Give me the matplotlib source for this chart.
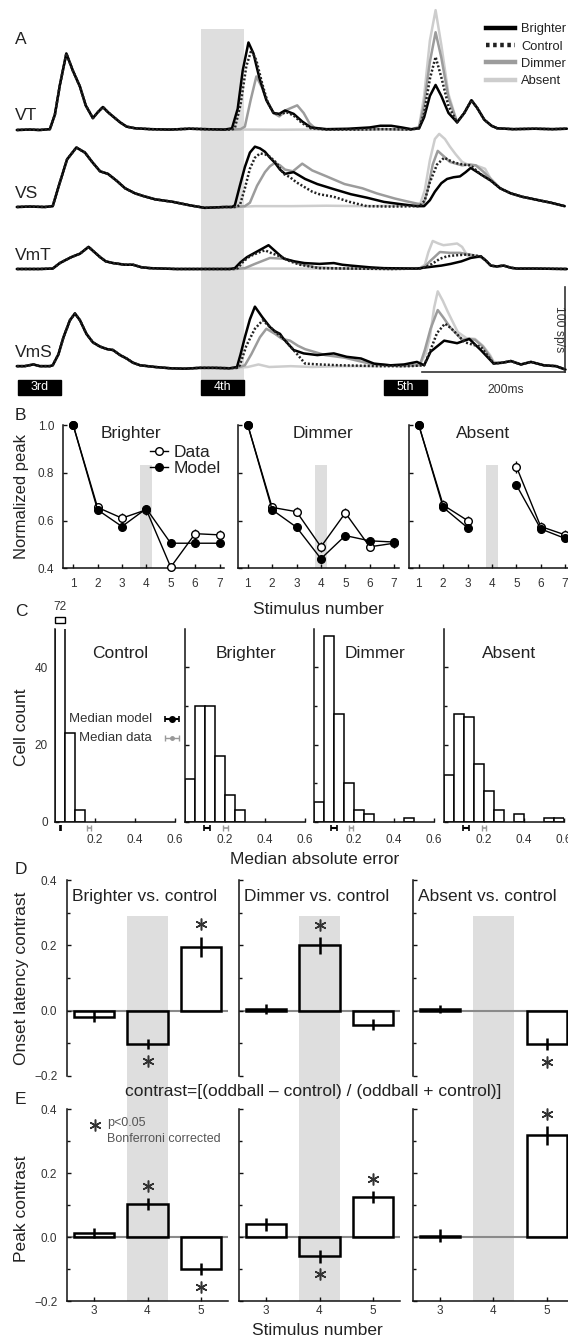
import numpy as np
import matplotlib
matplotlib.use("Agg")
import matplotlib.pyplot as plt
from matplotlib.patches import Rectangle
from matplotlib.lines import Line2D

plt.rcParams['font.family'] = ['Liberation Sans', 'DejaVu Sans']

W, H = 568, 1339
fig = plt.figure(figsize=(W / 100, H / 100), dpi=100)


def px_axes(x0, y0, x1, y1):
    # axes placed in pixel coords (top-left origin)
    return fig.add_axes([x0 / W, 1 - y1 / H, (x1 - x0) / W, (y1 - y0) / H])


def ftext(x, y, s, **kw):
    fig.text(x / W, 1 - y / H, s, **kw)


# ---------------- data: panel A (time in ms, rate in sp/s) ----------------
conds = ['Brighter', 'Control', 'Dimmer', 'Absent']
stim_onsets = [0, 255, 510]
stim_dur = 60
stim_labels = ['3rd', '4th', '5th']

vt_pre = [(-2, 0), (16, 0.5), (30, 0), (44, 1), (51, 18), (58, 53), (67, 90), (76, 70), (86, 51),
          (94, 29), (104, 14), (111, 21), (118, 27), (125, 21), (132, 16), (142, 9), (151, 4),
          (163, 2), (184, 1), (211, 0.5), (239, 1.5), (260, 1), (288, 0.5)]
vt_brighter = [(298, 2), (306, 25), (313, 70), (321, 103), (328, 90), (336, 62), (346, 35), (356, 20),
               (364, 19), (372, 23), (384, 19), (396, 10), (408, 3), (430, 1), (460, 1.5), (490, 3),
               (505, 5), (520, 5), (535, 3), (548, 1), (559, 2), (566, 15), (574, 40), (582, 53),
               (590, 40), (600, 20), (612, 9), (622, 20), (632, 35)]
vt_control = [(298, 0.5), (302, 2), (310, 30), (318, 75), (325, 94), (332, 82), (340, 55), (348, 32),
              (356, 20), (364, 18), (374, 21), (384, 17), (396, 8), (408, 2), (430, 0.5), (470, 0.5),
              (510, 1), (548, 0.5), (559, 2), (566, 20), (574, 60), (582, 86), (590, 62), (600, 28),
              (612, 9), (622, 20), (632, 35)]
vt_dimmer = [(298, 0.5), (310, 1), (316, 4), (324, 35), (332, 63), (340, 50), (346, 36), (356, 20),
             (364, 16), (375, 24), (389, 29), (398, 20), (406, 8), (414, 2), (430, 0.5), (470, 0.5),
             (510, 1), (548, 0.5), (559, 3), (566, 30), (574, 80), (582, 115), (590, 85), (600, 38),
             (612, 9), (622, 20), (632, 35)]
vt_absent = [(298, 0.5), (330, 0.5), (360, 0.3), (400, 0.5), (440, 0.5), (470, 0.5), (510, 1),
             (548, 0.5), (559, 4), (566, 40), (574, 105), (582, 141), (590, 100), (600, 42),
             (612, 9), (622, 20), (632, 35)]
vt_tail = [(640, 26), (650, 12), (660, 5), (668, 2), (690, 1), (720, 1.5), (745, 1), (765, 1.5)]

vs_pre = [(-2, 0), (16, 0.5), (37, 0), (48, 1), (58, 29), (68, 56), (81, 70), (93, 64), (103, 53),
          (114, 42), (125, 39), (137, 31), (149, 22), (163, 16), (174, 13), (191, 9), (216, 6),
          (239, 2), (260, -1), (288, 0), (298, 0)]
vs_brighter = [(302, 2), (309, 25), (316, 47), (323, 64), (330, 71), (337, 69), (344, 65), (351, 58),
               (358, 52), (365, 44), (372, 39), (384, 41), (400, 33), (417, 27), (440, 21), (464, 15),
               (486, 11), (510, 6), (532, 3.5), (556, 1), (566, 1), (574, 8), (581, 18), (590, 28),
               (598, 33), (607, 35), (616, 36), (624, 41), (631, 46), (644, 39), (659, 31)]
vs_control = [(302, 0), (309, 2), (316, 22), (323, 45), (330, 58), (337, 63), (344, 62), (351, 59),
              (360, 52), (370, 39), (379, 35), (388, 29), (398, 24), (410, 18), (420, 15), (440, 12),
              (462, 6), (486, 1), (520, 0.5), (560, 1), (567, 8), (574, 29), (584, 50), (594, 58),
              (601, 55), (609, 52), (620, 50), (631, 49), (644, 39), (659, 31)]
vs_dimmer = [(302, 0), (316, 1), (323, 5), (333, 25), (344, 41), (351, 48), (358, 52), (365, 49),
             (372, 44), (383, 42), (396, 51), (410, 43), (430, 36), (455, 27), (480, 22), (500, 16),
             (525, 10), (540, 7), (556, 4), (565, 3), (571, 20), (578, 50), (585, 66), (593, 60),
             (602, 53), (619, 49), (630, 50), (638, 49), (648, 42), (659, 33)]
vs_absent = [(302, 0), (330, 1), (380, 1), (430, 1.5), (480, 1), (530, 1.5), (560, 2), (567, 20),
             (574, 55), (581, 80), (587, 86), (595, 80), (602, 71), (610, 62), (619, 53), (629, 49),
             (638, 49), (651, 45), (659, 33)]
vs_tail = [(672, 22), (687, 16), (703, 12), (720, 9), (743, 5), (762, 1)]

vmt_pre = [(-2, 0), (30, 0), (48, 0.5), (58, 7), (67, 11), (74, 14), (86, 18), (98, 26), (106, 20),
           (114, 14), (122, 9), (132, 7), (149, 5), (160, 5), (172, 2), (184, 1), (220, 0), (260, 0),
           (295, 0)]
vmt_brighter = [(302, 1), (310, 8), (319, 14), (334, 21), (349, 28), (357, 22), (365, 16), (371, 12),
                (385, 9), (399, 7), (420, 6), (440, 7), (452, 5), (464, 4), (490, 2), (510, 1),
                (556, 0.5), (570, 2), (590, 4), (603, 6), (618, 9), (631, 13), (645, 15), (652, 10),
                (659, 4)]
vmt_control = [(302, 0), (306, 1), (314, 9), (323, 15), (334, 19), (344, 22), (355, 18), (365, 15),
               (379, 9), (393, 5), (420, 1), (470, 0.5), (520, 0), (560, 0.5), (567, 2), (577, 6),
               (588, 12), (598, 15), (609, 16), (626, 17), (636, 16), (645, 15), (652, 10), (659, 4)]
vmt_dimmer = [(302, 0), (316, 1), (330, 6), (351, 13), (372, 12), (393, 6), (414, 2), (450, 0.5),
              (520, 0), (560, 0.5), (567, 3), (574, 9), (588, 20), (602, 19), (616, 19), (630, 17),
              (645, 14), (652, 10), (659, 4)]
vmt_absent = [(302, 0.5), (360, 0.5), (420, 0.5), (500, 0.5), (560, 1), (567, 5), (572, 20),
              (578, 33), (586, 30), (593, 28), (603, 29), (612, 30), (619, 26), (626, 16), (634, 14),
              (645, 14), (652, 10), (659, 4)]
vmt_tail = [(667, 3), (677, 4), (687, 1.5), (695, 0.5), (720, 0.5), (765, 0)]

vms_pre = [(-2, 1), (9, 1), (21, 3), (30, 1), (44, 1), (48, 2), (56, 15), (63, 35), (72, 55), (79, 63),
           (86, 55), (95, 39), (104, 29), (114, 24), (124, 21), (132, 20), (142, 14), (151, 10),
           (160, 5), (170, 2), (191, 0), (212, -1.5), (232, -2), (253, -1), (274, -1), (295, -1.5)]
vms_brighter = [(305, 0), (310, 15), (316, 35), (323, 56), (330, 71), (340, 59), (351, 47), (358, 42),
                (365, 39), (370, 33), (384, 20), (398, 16), (417, 14), (440, 16), (458, 12), (478, 10),
                (496, 4), (519, 2), (538, 3), (556, 6), (566, 2), (575, 18), (594, 31), (612, 28),
                (629, 33), (645, 20), (663, 4)]
vms_control = [(305, -1), (309, 2), (318, 25), (330, 45), (341, 55), (351, 47), (370, 33), (386, 18),
               (400, 4), (420, 3), (449, 2), (504, 1), (546, 1), (566, 2), (574, 18), (584, 40),
               (595, 51), (603, 46), (609, 41), (623, 29), (635, 26), (645, 24), (663, 4)]
vms_dimmer = [(305, -1), (316, 2), (325, 15), (337, 35), (346, 45), (358, 39), (368, 33), (379, 31),
              (390, 25), (400, 21), (428, 14), (455, 11), (490, 4), (532, 1), (560, 2), (567, 20),
              (575, 45), (585, 67), (593, 58), (602, 47), (619, 32), (628, 33), (637, 32), (648, 24),
              (658, 12), (663, 5)]
vms_absent = [(305, -1), (320, 0), (335, 3), (350, 0), (380, 1), (410, 0), (450, 1), (500, 1),
              (540, 2), (560, 3), (568, 15), (574, 35), (580, 70), (585, 89), (592, 78), (599, 65),
              (613, 41), (625, 34), (637, 33), (648, 25), (658, 14), (663, 6)]
vms_tail = [(675, 5), (687, 7), (701, 3), (715, 6), (733, 2), (750, 1), (763, -3)]

cells = [('VT', vt_pre, [vt_brighter, vt_control, vt_dimmer, vt_absent], vt_tail),
         ('VS', vs_pre, [vs_brighter, vs_control, vs_dimmer, vs_absent], vs_tail),
         ('VmT', vmt_pre, [vmt_brighter, vmt_control, vmt_dimmer, vmt_absent], vmt_tail),
         ('VmS', vms_pre, [vms_brighter, vms_control, vms_dimmer, vms_absent], vms_tail)]

# ---------------- data: panel B ----------------
stim_num = [1, 2, 3, 4, 5, 6, 7]
b_titles = ['Brighter', 'Dimmer', 'Absent']
b_data = [[1.0, 0.655, 0.61, 0.645, 0.405, 0.545, 0.54],
          [1.0, 0.655, 0.637, 0.49, 0.632, 0.49, 0.505],
          [1.0, 0.665, 0.60, np.nan, 0.826, 0.575, 0.54]]
b_data_err = [[0, 0.02, 0.02, 0.02, 0.015, 0.02, 0.02],
              [0, 0.02, 0.02, 0.02, 0.02, 0.015, 0.02],
              [0, 0.02, 0.02, np.nan, 0.025, 0.02, 0.02]]
b_model = [[1.0, 0.645, 0.575, 0.65, 0.505, 0.505, 0.505],
           [1.0, 0.645, 0.572, 0.44, 0.537, 0.515, 0.51],
           [1.0, 0.655, 0.57, np.nan, 0.749, 0.565, 0.525]]
b_model_err = [[0, 0.015, 0.015, 0.015, 0.015, 0.015, 0.015],
               [0, 0.015, 0.015, 0.015, 0.015, 0.015, 0.015],
               [0, 0.015, 0.015, np.nan, 0.015, 0.015, 0.015]]

# ---------------- data: panel C ----------------
c_titles = ['Control', 'Brighter', 'Dimmer', 'Absent']
c_edges = [0.0, 0.05, 0.1, 0.15, 0.2, 0.25, 0.3, 0.35, 0.4, 0.45, 0.5, 0.55]
c_counts = [[72, 23, 3, 0, 0, 0, 0, 0, 0, 0, 0, 0],
            [11, 30, 30, 17, 7, 3, 0, 0, 0, 0, 0, 0],
            [5, 48, 28, 10, 3, 2, 0, 0, 0, 1, 0, 0],
            [12, 28, 27, 15, 8, 3, 0, 2, 0, 0, 1, 1]]
med_model = [0.028, 0.111, 0.1, 0.11]
med_model_err = [0.003, 0.015, 0.013, 0.017]
med_data = [0.17, 0.202, 0.187, 0.2]
med_data_err = [0.012, 0.012, 0.01, 0.012]

# ---------------- data: panels D, E ----------------
de_stim = [3, 4, 5]
de_titles = ['Brighter vs. control', 'Dimmer vs. control', 'Absent vs. control']
lat_vals = [[-0.018, -0.102, 0.195], [0.005, 0.2, -0.043], [0.004, np.nan, -0.102]]
lat_err = [[0.017, 0.015, 0.032], [0.015, 0.025, 0.016], [0.012, np.nan, 0.018]]
lat_sig = [[False, True, True], [False, True, False], [False, False, True]]
peak_vals = [[0.012, 0.103, -0.1], [0.04, -0.06, 0.125], [0.004, np.nan, 0.318]]
peak_err = [[0.015, 0.02, 0.02], [0.02, 0.02, 0.02], [0.02, np.nan, 0.03]]
peak_sig = [[False, True, True], [False, True, True], [False, False, True]]

# ---------------- style ----------------
TXT = '#222222'
TICK = '#333333'
SHADE = '#dedede'
BIG = 12.5
SMALL = 8.5
styles = {'Brighter': dict(color='black', lw=1.8),
          'Control': dict(color='#222222', lw=1.8, ls=(0, (0.8, 0.8))),
          'Dimmer': dict(color='#9c9c9c', lw=1.8),
          'Absent': dict(color='#cdcdcd', lw=1.8)}
draw_order = ['Absent', 'Dimmer', 'Brighter', 'Control']


def style_axes(ax, left=True, bottom=True):
    for s in ['top', 'right']:
        ax.spines[s].set_visible(False)
    ax.spines['left'].set_visible(left)
    ax.spines['bottom'].set_visible(bottom)
    for s in ['left', 'bottom']:
        ax.spines[s].set_linewidth(1.1)
        ax.spines[s].set_color('#111111')
    ax.tick_params(direction='in', length=3, width=1, colors='#111111', labelcolor=TICK,
                   labelsize=SMALL)
    ax.tick_params(which='minor', direction='in', length=2.5, width=1, colors='#111111')
    ax.patch.set_alpha(0)


# ================= Panel A =================
px_per_ms = 0.717
px_per_sp = 0.85
axA = px_axes(0, 0, 568, 400)
axA.set_xlim(-18.3 / px_per_ms, (568 - 18.3) / px_per_ms)
axA.set_ylim(0, 400 / px_per_sp)
axA.axis('off')
axA.axvspan(stim_onsets[1], stim_onsets[1] + stim_dur, ymin=5 / 400, ymax=371 / 400,
            color=SHADE, lw=0, zorder=0)

baselines = {'VT': 130, 'VS': 207, 'VmT': 269, 'VmS': 367}
for name, pre, posts, tail in cells:
    off = (400 - baselines[name]) / px_per_sp
    for cond in draw_order:
        pts = np.array(pre + posts[conds.index(cond)] + tail)
        axA.plot(pts[:, 0], pts[:, 1] + off, solid_capstyle='round', zorder=3, **styles[cond])
    ftext(15, baselines[name] - 14, name, fontsize=BIG, color=TXT, va='center', ha='left')

y0, y1 = (400 - 395) / px_per_sp, (400 - 380) / px_per_sp
for on, lab in zip(stim_onsets, stim_labels):
    axA.add_patch(Rectangle((on, y0), stim_dur, y1 - y0, color='black', zorder=4))
    axA.text(on + stim_dur / 2, (y0 + y1) / 2, lab, color='white', fontsize=9, ha='center',
             va='center', zorder=5)

# scale bars
sb_y = (400 - 371.7) / px_per_sp
axA.plot([563, 763], [sb_y, sb_y], color='#333333', lw=1.2)
axA.plot([763, 763], [sb_y, sb_y + 100], color='#333333', lw=1.2)
axA.text(680, (400 - 390) / px_per_sp, '200ms', fontsize=8.7, color=TICK, ha='center', va='center')
axA.text(754, sb_y + 50, '100 sp/s', fontsize=8.7, color=TICK, ha='center', va='center',
         rotation=-90)

handles = [Line2D([], [], color=styles[c]['color'], lw=3.2, ls=styles[c].get('ls', '-'))
           for c in conds]
axA.legend(handles, conds, loc='upper left', bbox_to_anchor=(485.7 / 568, 1 - 23 / 400),
           frameon=False, fontsize=9.3, handlelength=2.3, handletextpad=0.45, labelspacing=0.42,
           borderpad=0, borderaxespad=0, labelcolor=TXT)
ftext(15, 40, 'A', fontsize=BIG, color=TXT, va='center')

# ================= Panel B =================
b_left = [63.4, 238, 409]
for i in range(3):
    ax = px_axes(b_left[i], 425, b_left[i] + 161, 568.3)
    style_axes(ax)
    ax.set_xlim(0.6, 7.2)
    ax.set_ylim(0.4, 1.0)
    ax.axvspan(3.76, 4.24, ymax=(0.833 - 0.4) / 0.6, color=SHADE, lw=0, zorder=0)
    ax.errorbar(stim_num, b_data[i], yerr=b_data_err[i], fmt='-o', color='black', mfc='white',
                mec='black', ms=5.5, mew=1, lw=1, elinewidth=1, capsize=0, zorder=3, clip_on=False)
    ax.errorbar(stim_num, b_model[i], yerr=b_model_err[i], fmt='-o', color='black', mfc='black',
                mec='black', ms=5.5, lw=1, elinewidth=1, capsize=0, zorder=4, clip_on=False)
    ax.set_xticks(stim_num)
    ax.set_yticks([0.4, 0.6, 0.8, 1.0])
    ax.tick_params(axis='x', pad=7)
    ax.tick_params(axis='y', pad=6.5)
    if i > 0:
        ax.set_yticklabels([])
    ax.text([0.42, 0.527, 0.46][i], 0.942, b_titles[i], transform=ax.transAxes, fontsize=BIG,
            color=TXT, ha='center', va='center')
    if i == 0:
        lh = [Line2D([], [], color='black', lw=1, marker='o', mfc='white', mec='black', ms=5.5),
              Line2D([], [], color='black', lw=1, marker='o', mfc='black', mec='black', ms=5.5)]
        ax.legend(lh, ['Data', 'Model'], loc='upper left', bbox_to_anchor=(0.54, 0.86),
                  frameon=False, fontsize=BIG, handlelength=1.0, handletextpad=0.35,
                  labelspacing=0.05, borderpad=0, borderaxespad=0, labelcolor=TXT)
ftext(15, 415, 'B', fontsize=BIG, color=TXT, va='center')
ftext(21.7, 496.7, 'Normalized peak', fontsize=BIG * 0.95, color=TXT, rotation=90, ha='center',
      va='center')
ftext(318.8, 610, 'Stimulus number', fontsize=BIG, color=TXT, ha='center', va='center')

# ================= Panel C =================
c_left = [55, 185, 314, 444]
for i in range(4):
    ax = px_axes(c_left[i], 628.7, c_left[i] + 120, 821.7)
    style_axes(ax)
    ax.set_xlim(0, 0.6)
    ax.set_ylim(0, 50)
    cnt = np.array(c_counts[i], dtype=float)
    edges = np.array(c_edges)
    nz = cnt > 0
    ax.bar(edges[nz], cnt[nz], width=0.05, align='edge', facecolor='white', edgecolor='black',
           lw=1.1, zorder=2)
    ax.errorbar(med_model[i], -1.6, xerr=med_model_err[i], fmt='none', ecolor='black',
                elinewidth=1.5, capsize=2, capthick=1.2, clip_on=False)
    ax.errorbar(med_data[i], -1.6, xerr=med_data_err[i], fmt='none', ecolor='#999999',
                elinewidth=1.2, capsize=2, capthick=1, clip_on=False)
    ax.set_xticks([0.2, 0.4, 0.6])
    ax.set_xticklabels(['0.2', '0.4', '0.6'])
    ax.set_yticks([0, 20, 40])
    ax.set_yticks([10, 30], minor=True)
    ax.tick_params(axis='x', pad=9)
    ax.tick_params(axis='y', pad=5)
    if i > 0:
        ax.set_yticklabels([])
    ax.text([0.54, 0.51, 0.51, 0.54][i], 0.873, c_titles[i], transform=ax.transAxes, fontsize=BIG,
            color=TXT, ha='center', va='center')
    if i == 0:
        # clipped first bin
        ax.add_patch(Rectangle((0, 51.6), 0.05, 1.5, facecolor='white', edgecolor='black', lw=1,
                               clip_on=False))
        ax.text(0.025, 55.6, str(c_counts[0][0]), fontsize=SMALL, color=TICK, ha='center',
                va='center')
        ax.errorbar(0.585, 26.6, xerr=0.035, fmt='o', color='black', ms=4, elinewidth=1.5,
                    capsize=2.5, capthick=1.2, clip_on=False)
        ax.errorbar(0.585, 21.8, xerr=0.035, fmt='o', color='#999999', ms=2.5, elinewidth=1,
                    capsize=2.5, capthick=1, clip_on=False)
        ax.text(0.485, 26.6, 'Median model', fontsize=9.5, color='#333333', ha='right', va='center')
        ax.text(0.485, 21.8, 'Median data', fontsize=9.5, color='#333333', ha='right', va='center')
ftext(15, 611.7, 'C', fontsize=BIG, color=TXT, va='center')
ftext(21.7, 727, 'Cell count', fontsize=BIG, color=TXT, rotation=90, ha='center', va='center')
ftext(315, 860, 'Median absolute error', fontsize=BIG, color=TXT, ha='center', va='center')

# ================= Panels D, E =================
de_left = [67, 239, 413]


def bar_panel(ax, vals, errs, sigs):
    vals = np.array(vals, dtype=float)
    errs = np.array(errs, dtype=float)
    ax.axhline(0, color='#8a8a8a', lw=1.5, zorder=1)
    ok = ~np.isnan(vals)
    x = np.array(de_stim)[ok]
    ax.bar(x, vals[ok], width=0.75, facecolor='none', edgecolor='black', lw=1.8, zorder=3)
    ax.errorbar(x, vals[ok], yerr=errs[ok], fmt='none', ecolor='black', elinewidth=1.8,
                capsize=0, zorder=4)
    for xi, v, e, s in zip(de_stim, vals, errs, sigs):
        if s:
            ys = v + np.sign(v) * (e + 0.037)
            ax.plot(xi, ys, marker=(6, 2, 0), ms=8.5, mew=1.1, color='#333333', zorder=5,
                    clip_on=False)


for i in range(3):
    axD = px_axes(de_left[i], 880, de_left[i] + 161, 1076)
    style_axes(axD, bottom=False)
    axD.set_xlim(2.5, 5.5)
    axD.set_ylim(-0.2, 0.4)
    axD.axvspan(3.625, 4.375, ymax=(0.29 + 0.2) / 0.6, color=SHADE, lw=0, zorder=0)
    bar_panel(axD, lat_vals[i], lat_err[i], lat_sig[i])
    axD.set_xticks([])
    axD.set_yticks([-0.2, 0.0, 0.2, 0.4])
    axD.set_yticks([-0.1, 0.1, 0.3], minor=True)
    axD.tick_params(axis='y', pad=7)
    if i > 0:
        axD.set_yticklabels([])
    axD.text(5 / 161, 0.915, de_titles[i], transform=axD.transAxes, fontsize=BIG, color=TXT,
             ha='left', va='center')

    axE = px_axes(de_left[i], 1109, de_left[i] + 161, 1301)
    style_axes(axE)
    axE.set_xlim(2.5, 5.5)
    axE.set_ylim(-0.2, 0.4)
    axE.axvspan(3.625, 4.375, ymin=0, ymax=1.172, color=SHADE, lw=0, zorder=0, clip_on=False)
    bar_panel(axE, peak_vals[i], peak_err[i], peak_sig[i])
    axE.set_xticks(de_stim)
    axE.set_yticks([-0.2, 0.0, 0.2, 0.4])
    axE.set_yticks([-0.1, 0.1, 0.3], minor=True)
    axE.tick_params(axis='y', pad=7)
    axE.tick_params(axis='x', pad=3)
    if i > 0:
        axE.set_yticklabels([])
    if i == 0:
        axE.plot(0.174, 0.917, marker=(6, 2, 0), ms=8.5, mew=1.1, color='#333333',
                 transform=axE.transAxes, clip_on=False)
        axE.text(0.25, 0.926, 'p<0.05', transform=axE.transAxes, fontsize=9, color='#555555',
                 ha='left', va='center')
        axE.text(0.25, 0.843, 'Bonferroni corrected', transform=axE.transAxes, fontsize=9,
                 color='#555555', ha='left', va='center')

ftext(15, 870, 'D', fontsize=BIG, color=TXT, va='center')
ftext(21.7, 978, 'Onset latency contrast', fontsize=BIG, color=TXT, rotation=90, ha='center',
      va='center')
ftext(15, 1099, 'E', fontsize=BIG, color=TXT, va='center')
ftext(313.4, 1091.7, 'contrast=[(oddball \u2013 control) / (oddball + control)]', fontsize=BIG,
      color=TXT, ha='center', va='center')
ftext(21.7, 1208.3, 'Peak contrast', fontsize=BIG, color=TXT, rotation=90, ha='center', va='center')
ftext(317, 1330.7, 'Stimulus number', fontsize=BIG, color=TXT, ha='center', va='center')

fig.savefig('out.png', dpi=100)
